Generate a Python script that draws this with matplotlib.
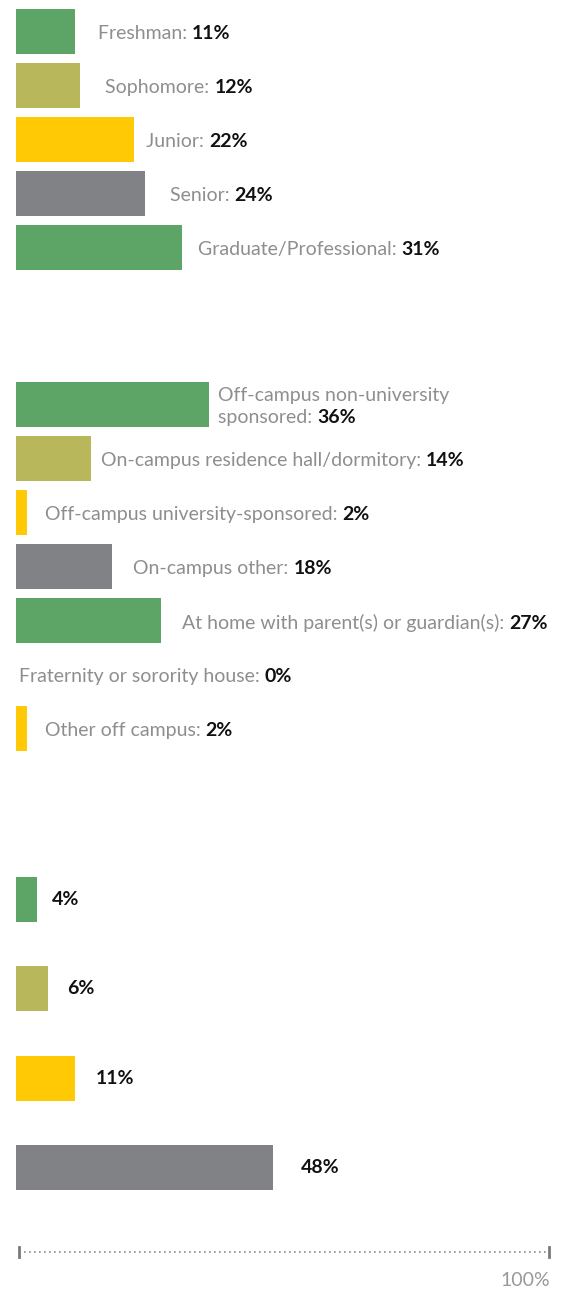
import matplotlib
matplotlib.use("Agg")
import matplotlib.pyplot as plt

# --- Data ---
year_labels = ["Freshman", "Sophomore", "Junior", "Senior", "Graduate/Professional"]
year_pct = [11, 12, 22, 24, 31]

housing_labels = [
    "Off-campus non-university\nsponsored",
    "On-campus residence hall/dormitory",
    "Off-campus university-sponsored",
    "On-campus other",
    "At home with parent(s) or guardian(s)",
    "Fraternity or sorority house",
    "Other off campus",
]
housing_pct = [36, 14, 2, 18, 27, 0, 2]

other_pct = [4, 6, 11, 48]

# --- Styling ---
PALETTE = ["#5da566", "#b9b75c", "#ffca05", "#818285"]
GRAY_TEXT = "#8e8e8e"
FONT = "Lato"
FS = 14
NUDGE = -2  # labels sit a touch below bar centre

W, H = 566, 1290
fig = plt.figure(figsize=(W / 100, H / 100), dpi=100)
# axes spans 0..100% horizontally, y in pixel rows (top = 0)
ax = fig.add_axes([16 / W, 0, 536 / W, 1])
ax.set_xlim(0, 100)
ax.set_ylim(H, 0)
ax.axis("off")

BAR_H = 45


def draw_group(values, labels, y0, pitch, gaps):
    for i, v in enumerate(values):
        y = y0 + i * pitch
        color = PALETTE[i % len(PALETTE)]
        if v > 0:
            ax.barh(y, v, height=BAR_H, left=0, color=color, linewidth=0)
        value_txt = f"{v}%"
        if labels is None:
            ax.annotate(value_txt, xy=(v, y), xytext=(gaps[i], 0),
                        textcoords="offset pixels", va="center", ha="left",
                        fontsize=FS, fontweight="bold", color="#111111",
                        family=FONT)
            continue
        lines = labels[i].split("\n")
        if len(lines) > 1:
            # wrapped label: first lines sit above, last line carries the value
            ax.annotate("\n".join(lines[:-1]), xy=(v, y), xytext=(gaps[i], 11 + NUDGE),
                        textcoords="offset pixels", va="center", ha="left",
                        fontsize=FS, color=GRAY_TEXT, family=FONT)
            dy = -11 + NUDGE
        else:
            dy = NUDGE
        name = ax.annotate(lines[-1] + ": ", xy=(v, y), xytext=(gaps[i], dy),
                           textcoords="offset pixels", va="center", ha="left",
                           fontsize=FS, color=GRAY_TEXT, family=FONT)
        ax.annotate(value_txt, xy=(1, 0), xycoords=name, va="bottom", ha="left",
                    fontsize=FS, fontweight="bold", color="#111111", family=FONT)


draw_group(year_pct, year_labels, 31.5, 54, [23, 25, 12, 25, 16])
draw_group(housing_pct, housing_labels, 404.5, 54, [9, 10, 18, 21, 21, 3, 18])
draw_group(other_pct, None, 899.5, 89.3, [14, 19, 21, 28])

# --- Scale line at the bottom ---
axis_y = 1252
ax.plot([0.5, 99.5], [axis_y, axis_y], color="#8a8a8a", linestyle=(0, (1, 2)),
        linewidth=1.2)
for xe in (0.5, 99.5):
    ax.plot([xe, xe], [axis_y - 5, axis_y + 5], color="#7a7a7a", linewidth=2)
ax.text(99.7, 1281, "100%", ha="right", va="center", fontsize=FS,
        color="#999999", family=FONT)

fig.savefig("out.png", dpi=100)
